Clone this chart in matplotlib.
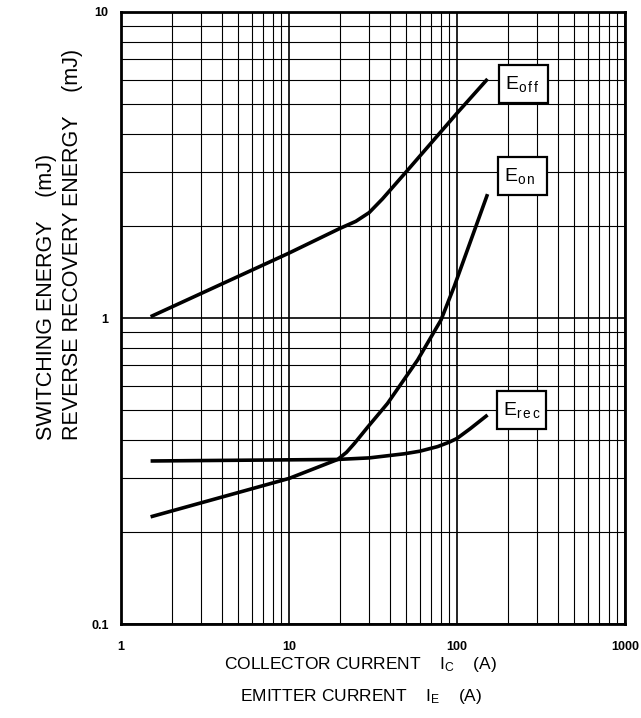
import matplotlib
matplotlib.use('Agg')
import matplotlib.pyplot as plt
from matplotlib.patches import Rectangle
from matplotlib.ticker import LogLocator, FixedLocator, FixedFormatter, NullFormatter

# Font setup (Arial-like)
plt.rcParams['font.family'] = ['Liberation Sans', 'DejaVu Sans']
plt.rcParams['mathtext.default'] = 'regular'

# Curve data
ic_off = [1.5, 10, 20, 25, 30, 36, 50, 100, 152]
e_off = [1.01, 1.63, 1.96, 2.07, 2.21, 2.45, 3.01, 4.67, 6.04]

ic_on = [1.5, 10, 19.5, 22, 24.5, 29.4, 38.6, 58.3, 80.3, 96.4, 152]
e_on = [0.224, 0.299, 0.345, 0.364, 0.389, 0.44, 0.526, 0.729, 0.985, 1.27, 2.54]

ic_rec = [1.5, 19.5, 30, 48.6, 60, 76.7, 90, 100, 120, 152]
e_rec = [0.341, 0.345, 0.349, 0.36, 0.367, 0.38, 0.393, 0.404, 0.435, 0.482]

x_ticks = [1, 10, 100, 1000]
x_tick_labels = ['1', '10', '100', '1000']
y_ticks = [0.1, 1, 10]
y_tick_labels = ['0.1', '1', '10']

fig = plt.figure(figsize=(6.41, 7.18), dpi=100)
ax = fig.add_axes([0.1888, 0.1309, 0.7862, 0.8524])

ax.plot(ic_off, e_off, color='black', lw=2.6, solid_capstyle='butt')
ax.plot(ic_on, e_on, color='black', lw=2.6, solid_capstyle='butt')
ax.plot(ic_rec, e_rec, color='black', lw=2.6, solid_capstyle='butt')

ax.set_xscale('log')
ax.set_yscale('log')
ax.set_xlim(1, 1000)
ax.set_ylim(0.1, 10)

# grid lines on every decade and sub-decade
ax.xaxis.set_major_locator(FixedLocator(x_ticks))
ax.xaxis.set_major_formatter(FixedFormatter(x_tick_labels))
ax.yaxis.set_major_locator(FixedLocator(y_ticks))
ax.yaxis.set_major_formatter(FixedFormatter(y_tick_labels))
ax.xaxis.set_minor_locator(LogLocator(base=10, subs=range(2, 10)))
ax.yaxis.set_minor_locator(LogLocator(base=10, subs=range(2, 10)))
ax.xaxis.set_minor_formatter(NullFormatter())
ax.yaxis.set_minor_formatter(NullFormatter())
ax.grid(True, which='major', color='black', lw=1.2)
ax.grid(True, which='minor', color='black', lw=0.8)
ax.tick_params(which='both', length=0)
ax.tick_params(axis='x', pad=12, labelsize=9)
ax.tick_params(axis='y', pad=9, labelsize=9)
for lab in ax.get_xticklabels() + ax.get_yticklabels():
    lab.set_fontweight('bold')
for sp in ax.spines.values():
    sp.set_linewidth(2)

# label boxes
boxes = [
    (0.750, 0.851, 'E', 'o f f'),
    (0.748, 0.701, 'E', 'o n'),
    (0.746, 0.319, 'E', 'r e c'),
]
for bx, by, big, small in boxes:
    ax.add_patch(Rectangle((bx, by), 0.098, 0.062, transform=ax.transAxes,
                           facecolor='white', edgecolor='black', lw=1.6, zorder=5))
    ax.text(bx + 0.012, by + 0.031, big + '$_{' + small.replace(' ', r'\,') + '}$',
            transform=ax.transAxes, fontsize=14, va='center', ha='left', zorder=6)

# axis titles
fig.text(0.563, 0.052, 'COLLECTOR CURRENT    I$_{C}$    (A)\nEMITTER CURRENT    I$_{E}$    (A)',
         fontsize=12.5, ha='center', va='center', linespacing=1.95)
fig.text(0.093, 0.387, 'SWITCHING ENERGY    (mJ)\nREVERSE RECOVERY ENERGY    (mJ)',
         fontsize=15.5, rotation=90, ha='center', va='bottom', linespacing=1.3,
         multialignment='left')

fig.savefig('out.png', dpi=100)
